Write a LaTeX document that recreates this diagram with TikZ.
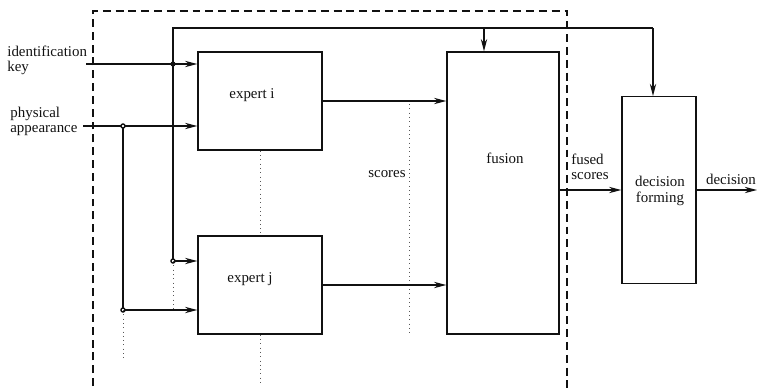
\documentclass[tikz,border=0pt]{standalone}
\usepackage{fontspec}
\setmainfont{Liberation Serif}
\usetikzlibrary{arrows.meta,positioning,calc}
\definecolor{Ink}{HTML}{111111}

\begin{document}
\begin{tikzpicture}[x=0.02cm,y=-0.02cm,>={Stealth[length=7pt,width=3.6pt]},
  blockbox/.style={draw=Ink,line width=0.8pt,inner sep=0pt},
  blocktext/.style={font=\fontsize{8.5}{9.5}\selectfont,align=center,inner sep=0pt,text=Ink},
  flow/.style={draw=Ink,line width=0.8pt},
  guide/.style={draw=Ink!70,line width=0.45pt,dotted},
  lbl/.style={font=\fontsize{8.5}{8.5}\selectfont,align=left,inner sep=0pt,text=Ink}]
\useasboundingbox (0,0) rectangle (757,389);
% dashed frame of the expert stage
\draw[Ink,line width=0.8pt,dash pattern=on 4.5pt off 2.8pt] (93,386) -- (93,11) -- (567,11) -- (567,389);
% blocks
\node[blockbox,minimum width=2.48cm,minimum height=1.96cm] (expi) at (260,101) {};
\node[blockbox,minimum width=2.48cm,minimum height=1.96cm] (expj) at (260,285) {};
\node[blockbox,minimum width=2.24cm,minimum height=5.64cm] (fusion) at (503,193) {};
\node[blockbox,minimum width=1.48cm,minimum height=3.73cm] (decide) at (659,190) {};
\node[blocktext] (expitxt) at ($(expi.center)+(-8,-6)$) {expert i};
\node[blocktext] (expjtxt) at ($(expj.center)+(-10,-6)$) {expert j};
\node[blocktext] (fusiontxt) at ($(fusion.center)+(2,-35)$) {fusion};
\node[blocktext] (decidetxt) at ($(decide.center)+(1,1)$) {decision\\forming};
% labels
\node[lbl,anchor=west] (idlbl) at (7,60) {identification\\key};
\node[lbl,anchor=west] (phlbl) at (10,121) {physical\\appearance};
\node[lbl,anchor=east] (sclbl) at (406,174) {scores};
\node[lbl,anchor=west] (fslbl) at (571,167) {fused\\scores};
\node[lbl,anchor=south] (declbl) at (731,185) {decision};
% junction points
\coordinate (idin) at (86,64);
\coordinate (phin) at (83,126);
\coordinate (iddot) at (173,64);
\coordinate (phdot) at (123,126);
\coordinate (jk) at (173,261);
\coordinate (jp) at (123,310);
\coordinate (ftop) at (484,28);
\coordinate (dtop) at (653,28);
\coordinate (dout) at (757,190);
% inputs
\draw[flow,->] (idin) -- (idin -| expi.west);
\draw[flow,->] (phin) -- (phin -| expi.west);
\draw[flow] (jk) |- (dtop);
\draw[flow,->] (dtop) -- (dtop |- decide.north);
\draw[flow,->] (ftop) -- (ftop |- fusion.north);
\draw[flow,->] (jk) -- (jk -| expj.west);
\draw[flow] (phdot) -- (jp);
\draw[flow,->] (jp) -- (jp -| expj.west);
\fill[Ink] (iddot) circle (2.6);
\draw[Ink,line width=0.8pt,fill=white] (phdot) circle (2);
\draw[Ink,line width=0.8pt,fill=white] (jk) circle (2);
\draw[Ink,line width=0.8pt,fill=white] (jp) circle (2);
% more experts
\draw[guide] (jp) -- ++(0,48);
\draw[guide] (jk) -- ++(0,51);
\draw[guide] (expi.south) -- (expj.north);
\draw[guide] (expj.south) -- ++(0,48);
\draw[guide] (409,104) -- (409,336);
% scores and decision
\draw[flow,->] (expi.east) -- (expi.east -| fusion.west);
\draw[flow,->] (expj.east) -- (expj.east -| fusion.west);
\draw[flow,->] (fusion.east |- decide.west) -- (decide.west);
\draw[flow,->] (decide.east) -- (dout);
\end{tikzpicture}
\end{document}
